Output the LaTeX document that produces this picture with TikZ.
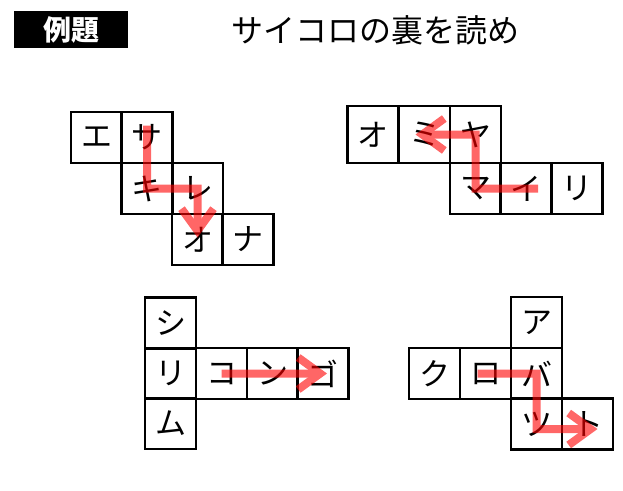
\documentclass[tikz,border=0pt]{standalone}
\usepackage{fontspec}
\setmainfont{Noto Sans CJK JP}
\usepackage{xcolor}
\usetikzlibrary{arrows.meta}
\definecolor{readred}{RGB}{255,0,0}
\tikzset{
  % マス
  cell/.style={
    draw,
    line width=2.2pt,
    minimum width=51pt,
    minimum height=51pt,
    inner sep=0pt,
    outer sep=0pt,
    font=\fontsize{31}{31}\selectfont
  },
  % 上段だけ高いマス
  tallcell/.style={cell, minimum height=57pt},
  % 読む順の矢印
  readarr/.style={readred, line width=8pt, -{Straight Barb[length=22pt, width=32pt]}},
}
\begin{document}
\begin{tikzpicture}[x=1pt, y=-1pt]
        \useasboundingbox (0,0) rectangle (623,490);

        % 見出し
        \node[fill=black, text=white, minimum width=114pt, minimum height=37pt,
              font=\fontsize{28}{28}\selectfont\bfseries] (tag) at (71,29.5) {例題};
        \node[font=\fontsize{32}{32}\selectfont] (title) at (375,30) {サイコロの裏を読め};

        % 左上
        \node[cell] (e1) at (96.5,137.5) {エ};
        \node[cell] (sa1) at (147,137.5) {サ};
        \node[cell] (ki1) at (147,188.5) {キ};
        \node[cell] (re1) at (197.5,188.5) {レ};
        \node[cell] (o1) at (197.5,239.5) {オ};
        \node[cell] (na1) at (248,239.5) {ナ};

        % 右上
        \node[tallcell] (o2) at (373,134.5) {オ};
        \node[tallcell] (mi2) at (424.5,134.5) {ミ};
        \node[tallcell] (ya2) at (475.5,134.5) {ヤ};
        \node[cell] (ma2) at (475.5,188.5) {マ};
        \node[cell] (i2) at (526,188.5) {イ};
        \node[cell] (ri2) at (577,188.5) {リ};

        % 左下
        \node[cell] (shi3) at (170.5,323) {シ};
        \node[cell] (ri3) at (170.5,373.5) {リ};
        \node[cell] (ko3) at (221.5,373.5) {コ};
        \node[cell] (n3) at (272.5,373.5) {ン};
        \node[cell] (go3) at (323,373.5) {ゴ};
        \node[cell] (mu3) at (170.5,423.5) {ム};

        % 右下
        \node[cell] (a4) at (536.5,322.5) {ア};
        \node[cell] (ku4) at (434.5,373.5) {ク};
        \node[cell] (ro4) at (485.5,373.5) {ロ};
        \node[cell] (ba4) at (536.5,373.5) {バ};
        \node[cell] (tsu4) at (536.5,424) {ツ};
        \node[cell] (to4) at (587.5,424) {ト};

        % 矢印
        \begin{scope}[transparency group, opacity=0.6]
            \draw[readarr] ([yshift=12pt]sa1.center) -- (ki1.center) -- (re1.center) -- ([yshift=2pt]o1.center);
            \draw[readarr] ([xshift=12pt]i2.center) -- (ma2.center) -- (ya2.center) -- ([xshift=-9pt]mi2.center);
            \draw[readarr] (ko3.center) -- ([xshift=4pt]go3.center);
            \draw[readarr] ([xshift=-8pt]ro4.center) -- (ba4.center) -- ([yshift=-5pt]tsu4.center) -- ([xshift=10pt,yshift=-5pt]to4.center);
        \end{scope}
\end{tikzpicture}
\end{document}
